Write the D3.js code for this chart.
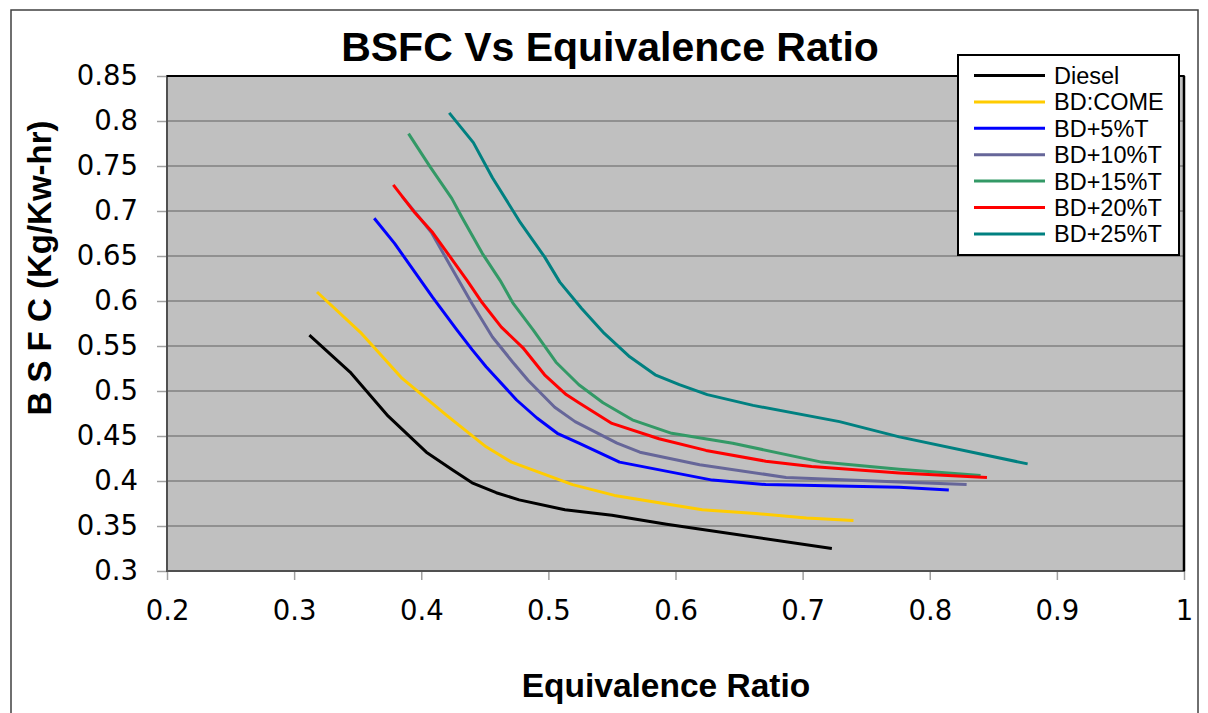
<!DOCTYPE html>
<html><head><meta charset="utf-8">
<script src="https://cdn.jsdelivr.net/npm/d3@7"></script>
<style>html,body{margin:0;padding:0;background:#fff;}svg{display:block;}</style>
</head><body>
<svg id="c" width="1208" height="713"></svg>
<script>
const seriesNames = ["Diesel","BD:COME","BD+5%T","BD+10%T","BD+15%T","BD+20%T","BD+25%T"];
const seriesColors = ["#000000","#FFCC00","#0000FF","#666699","#339966","#FF0000","#008080"];
const dieselX = [0.312,0.344,0.374,0.404,0.425,0.440,0.459,0.477,0.513,0.550,0.593,0.723];
const dieselY = [0.562,0.521,0.472,0.432,0.412,0.398,0.387,0.379,0.368,0.362,0.352,0.325];
const comeX = [0.318,0.353,0.385,0.420,0.451,0.471,0.519,0.552,0.621,0.663,0.703,0.740];
const comeY = [0.610,0.564,0.514,0.473,0.438,0.421,0.396,0.384,0.368,0.364,0.359,0.356];
const t5X = [0.363,0.379,0.409,0.428,0.440,0.451,0.475,0.491,0.507,0.524,0.556,0.629,0.671,0.776,0.815];
const t5Y = [0.692,0.664,0.604,0.568,0.546,0.527,0.490,0.470,0.453,0.442,0.421,0.401,0.396,0.393,0.390];
const t10X = [0.385,0.395,0.408,0.425,0.440,0.456,0.472,0.484,0.505,0.521,0.554,0.572,0.619,0.687,0.776,0.829];
const t10Y = [0.716,0.699,0.676,0.634,0.597,0.560,0.532,0.512,0.482,0.466,0.442,0.432,0.418,0.404,0.399,0.396];
const t15X = [0.390,0.407,0.424,0.432,0.448,0.462,0.472,0.488,0.506,0.524,0.543,0.566,0.597,0.645,0.715,0.776,0.840];
const t15Y = [0.786,0.749,0.714,0.693,0.653,0.623,0.598,0.568,0.532,0.507,0.487,0.468,0.453,0.442,0.421,0.413,0.406];
const t20X = [0.378,0.395,0.409,0.436,0.448,0.463,0.480,0.497,0.514,0.524,0.550,0.587,0.624,0.671,0.707,0.776,0.845];
const t20Y = [0.729,0.698,0.676,0.623,0.598,0.571,0.548,0.518,0.496,0.487,0.464,0.447,0.434,0.422,0.416,0.409,0.404];
const t25X = [0.422,0.441,0.456,0.478,0.497,0.509,0.526,0.544,0.564,0.584,0.603,0.625,0.661,0.729,0.776,0.877];
const t25Y = [0.809,0.776,0.737,0.687,0.649,0.621,0.592,0.564,0.538,0.518,0.507,0.496,0.484,0.466,0.449,0.419];
const xTicks = [0.2,0.3,0.4,0.5,0.6,0.7,0.8,0.9,1];
const yTicks = [0.3,0.35,0.4,0.45,0.5,0.55,0.6,0.65,0.7,0.75,0.8,0.85];
const titleText = "BSFC Vs Equivalence Ratio";
const xTitle = "Equivalence Ratio";
const yTitle = "B S F C (Kg/Kw-hr)";

const seriesX = [dieselX,comeX,t5X,t10X,t15X,t20X,t25X];
const seriesY = [dieselY,comeY,t5Y,t10Y,t15Y,t20Y,t25Y];
const series = seriesNames.map((n,i)=>({name:n,color:seriesColors[i],pts:seriesX[i].map((x,j)=>[x,seriesY[i][j]])}));

const svg = d3.select("#c");
const L=167,R=1184,T=76,B=571;
const x = d3.scaleLinear().domain([0.2,1]).range([L,R]);
const y = d3.scaleLinear().domain([0.3,0.85]).range([B,T]);

// outer frame
svg.append("rect").attr("x",11).attr("y",10).attr("width",1187).attr("height",740)
  .attr("fill","#fff").attr("stroke","#404040").attr("stroke-width",1.5);

// plot area
svg.append("rect").attr("x",L).attr("y",T).attr("width",R-L).attr("height",B-T).attr("fill","#C0C0C0");

// gridlines
svg.append("g").selectAll("line").data(yTicks.slice(1)).join("line")
  .attr("x1",L).attr("x2",R).attr("y1",d=>y(d)).attr("y2",d=>y(d))
  .attr("stroke","#808080").attr("stroke-width",1.5);

// axes
const fontTick = "'DejaVu Sans', Verdana, sans-serif";
const yAxis = svg.append("g").attr("transform",`translate(${L},0)`)
  .call(d3.axisLeft(y).tickValues(yTicks).tickSize(10).tickPadding(19).tickFormat(d=>String(+d.toFixed(2))));
const xAxis = svg.append("g").attr("transform",`translate(0,${B})`)
  .call(d3.axisBottom(x).tickValues(xTicks).tickSize(9).tickPadding(20).tickFormat(d=>String(+d.toFixed(1))));
[yAxis,xAxis].forEach(a=>{
  a.select(".domain").remove();
  a.selectAll(".tick line").attr("stroke","#a0a0a0").attr("stroke-width",1.5);
  a.selectAll(".tick text").attr("font-family",fontTick).attr("font-size",27.5).attr("fill","#000");
});

// plot border
svg.append("rect").attr("x",L).attr("y",T).attr("width",R-L).attr("height",B-T)
  .attr("fill","none").attr("stroke","#505050").attr("stroke-width",2);
svg.append("line").attr("x1",L).attr("x2",R).attr("y1",T).attr("y2",T).attr("stroke","#000").attr("stroke-width",2);
svg.append("line").attr("x1",R).attr("x2",R).attr("y1",T).attr("y2",B).attr("stroke","#000").attr("stroke-width",2.5);

// series
const line = d3.line().x(d=>x(d[0])).y(d=>y(d[1]));
svg.append("g").selectAll("path").data(series).join("path")
  .attr("d",d=>line(d.pts)).attr("fill","none").attr("stroke",d=>d.color)
  .attr("stroke-width",3).attr("stroke-linejoin","round");

// titles
const fontTitle = "'Liberation Sans', Arial, sans-serif";
svg.append("text").attr("x",610).attr("y",61).attr("text-anchor","middle")
  .attr("font-family",fontTitle).attr("font-weight","bold").attr("font-size",41).text(titleText);
svg.append("text").attr("x",666).attr("y",697).attr("text-anchor","middle")
  .attr("font-family",fontTitle).attr("font-weight","bold").attr("font-size",33.5).text(xTitle);
svg.append("text").attr("transform","translate(51,268) rotate(-90)").attr("text-anchor","middle")
  .attr("font-family",fontTitle).attr("font-weight","bold").attr("font-size",33).text(yTitle);

// legend
const lg = svg.append("g");
lg.append("rect").attr("x",958).attr("y",55).attr("width",221).attr("height",200)
  .attr("fill","#fff").attr("stroke","#000").attr("stroke-width",2);
const rows = lg.selectAll("g").data(series).join("g")
  .attr("transform",(d,i)=>`translate(0,${75.5+i*26.4})`);
rows.append("line").attr("x1",974).attr("x2",1045).attr("stroke",d=>d.color).attr("stroke-width",3);
rows.append("text").attr("x",1054).attr("y",8.5).attr("font-family",fontTitle)
  .attr("font-size",23.5).attr("fill","#000")
  .attr("textLength",d=>d.name.length*0).attr("lengthAdjust","spacingAndGlyphs")
  .each(function(d){ d3.select(this).attr("textLength",null); })
  .text(d=>d.name);
</script>
</body></html>
